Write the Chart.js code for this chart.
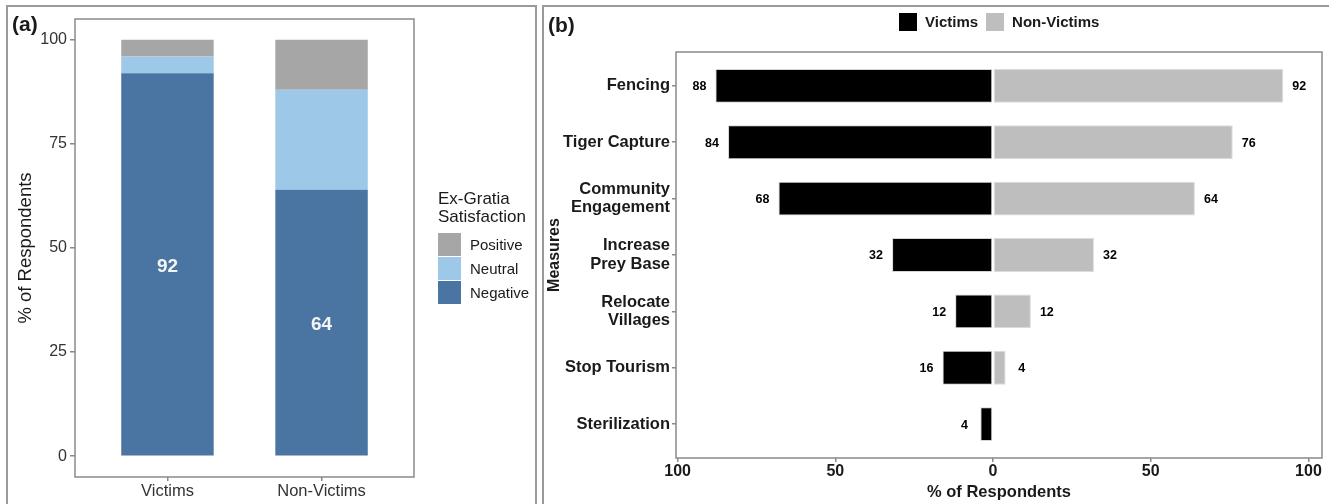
<!DOCTYPE html>
<html>
<head>
<meta charset="utf-8">
<script src="https://cdn.jsdelivr.net/npm/chart.js@4.4.1/dist/chart.umd.min.js"></script>
<style>
  html, body { margin: 0; padding: 0; background: #fff; }
  body { width: 1329px; height: 504px; position: relative; overflow: hidden;
         font-family: 'Liberation Sans', Arial, sans-serif; color: #1a1a1a; }
  .frame { position: absolute; border: 2px solid #9a9a9a; border-bottom: none; box-sizing: border-box; }
  #frameA { left: 6px; top: 5px; width: 531px; height: 499px; }
  #frameB { left: 542px; top: 5px; width: 800px; height: 499px; }
  .tag { position: absolute; font-weight: bold; font-size: 21px; line-height: 1; }
  canvas { position: absolute; top: 0; }
  #legendA { position: absolute; left: 438px; top: 190px; font-size: 15px; }
  #legendA .title { font-size: 17px; line-height: 18px; margin-bottom: 6px; }
  #legendA .row { display: flex; align-items: center; height: 24.3px; }
  #legendA .sw { width: 23px; height: 23px; margin-right: 9px; }
  #legendB { position: absolute; left: 899px; top: 13px; display: flex; align-items: center;
             font-size: 15px; font-weight: bold; line-height: 18px; }
  #legendB .sw { width: 18px; height: 18px; margin-right: 8px; }
  #legendB .lab { margin-right: 8px; }
</style>
</head>
<body>
<div class="frame" id="frameA"></div>
<div class="frame" id="frameB"></div>
<canvas id="chartA" width="538" height="504" style="left:0;width:538px;height:504px"></canvas>
<canvas id="chartB" width="786" height="504" style="left:543px;width:786px;height:504px"></canvas>
<div class="tag" style="left:12px;top:13px">(a)</div>
<div class="tag" style="left:548px;top:14px">(b)</div>
<div id="legendA"></div>
<div id="legendB"></div>
<script>
// panel (a): ex-gratia satisfaction
const groups = ['Victims', 'Non-Victims'];
const negative = [92, 64];
const neutral = [4, 24];
const positive = [4, 12];
const levelNames = ['Negative', 'Neutral', 'Positive'];
const levelColors = ['#4a75a3', '#9dc8e7', '#a6a6a6'];
const yTicksA = [0, 25, 50, 75, 100];

// panel (b): preferred measures
const measures = ['Fencing', 'Tiger Capture', 'Community\nEngagement', 'Increase\nPrey Base',
                  'Relocate\nVillages', 'Stop Tourism', 'Sterilization'];
const victims = [88, 84, 68, 32, 12, 16, 4];
const nonVictims = [92, 76, 64, 32, 12, 4, 0];
const respondentNames = ['Victims', 'Non-Victims'];
const respondentColors = ['#000000', '#bebebe'];
const xTicksB = [-100, -50, 0, 50, 100];

const FONT = "'Liberation Sans', Arial, sans-serif";
Chart.defaults.font.family = FONT;

// box round the plot area, like ggplot's panel border
const panelBox = {
  id: 'panelBox',
  afterDatasetsDraw(chart) {
    const a = chart.chartArea, ctx = chart.ctx;
    ctx.save();
    ctx.strokeStyle = '#8a8a8a';
    ctx.lineWidth = 1.5;
    ctx.strokeRect(a.left, a.top, a.right - a.left, a.bottom - a.top);
    ctx.restore();
  }
};

const tickGrid = { drawOnChartArea: false, offset: false, tickLength: 4, color: '#8a8a8a', lineWidth: 1.5 };

// ---- chart (a)
const levelValues = [negative, neutral, positive];
const labelsA = {
  id: 'labelsA',
  afterDatasetsDraw(chart) {
    const ctx = chart.ctx;
    ctx.save();
    ctx.font = 'bold 19px ' + FONT;
    ctx.fillStyle = '#f4f4f4';
    ctx.textAlign = 'center';
    ctx.textBaseline = 'middle';
    chart.getDatasetMeta(0).data.forEach((bar, i) => {
      ctx.fillText(negative[i], bar.x, (bar.y + bar.base) / 2 + 2);
    });
    ctx.restore();
  }
};

new Chart(document.getElementById('chartA'), {
  type: 'bar',
  data: {
    datasets: levelNames.map((name, k) => ({
      label: name,
      data: groups.map((g, i) => ({ x: i + 1, y: levelValues[k][i] })),
      backgroundColor: levelColors[k],
      borderWidth: 0
    }))
  },
  options: {
    responsive: false,
    animation: false,
    layout: { padding: { top: 19, right: 124, left: 0, bottom: 0 } },
    datasets: { bar: { categoryPercentage: 1, barPercentage: 0.6 } },
    plugins: { legend: { display: false }, tooltip: { enabled: false } },
    scales: {
      x: {
        type: 'linear', stacked: true, min: 0.4, max: 2.6, offset: false,
        afterBuildTicks: s => { s.ticks = groups.map((g, i) => ({ value: i + 1 })); },
        afterFit: s => { s.height = 27; },
        ticks: { callback: v => groups[v - 1], font: { size: 16.5 }, color: '#333', padding: 1, maxRotation: 0, autoSkip: false },
        grid: tickGrid,
        border: { display: false }
      },
      y: {
        type: 'linear', stacked: true, min: -5, max: 105,
        afterBuildTicks: s => { s.ticks = yTicksA.map(v => ({ value: v })); },
        afterFit: s => { s.width = 75; },
        ticks: { font: { size: 16 }, color: '#333', padding: 3 },
        grid: Object.assign({}, tickGrid, { tickLength: 5 }),
        border: { display: false },
        title: { display: true, text: '% of Respondents', font: { size: 18.5 }, color: '#1a1a1a', padding: { top: 15, bottom: 0 } }
      }
    }
  },
  plugins: [panelBox, labelsA]
});

// ---- chart (b)
const labelsB = {
  id: 'labelsB',
  afterDatasetsDraw(chart) {
    const ctx = chart.ctx;
    ctx.save();
    ctx.font = 'bold 12.5px ' + FONT;
    ctx.fillStyle = '#000';
    ctx.textAlign = 'center';
    ctx.textBaseline = 'middle';
    chart.getDatasetMeta(0).data.forEach((bar, i) => {
      if (victims[i]) ctx.fillText(victims[i], bar.x - 16, bar.y + 1);
    });
    chart.getDatasetMeta(1).data.forEach((bar, i) => {
      if (nonVictims[i]) ctx.fillText(nonVictims[i], bar.x + 16, bar.y + 1);
    });
    ctx.restore();
  }
};

new Chart(document.getElementById('chartB'), {
  type: 'bar',
  data: {
    datasets: [
      { label: respondentNames[0], data: measures.map((m, i) => ({ y: i + 1, x: -victims[i] })),
        backgroundColor: respondentColors[0], borderColor: '#d4d4d4', borderWidth: 1, borderSkipped: false },
      { label: respondentNames[1], data: measures.map((m, i) => ({ y: i + 1, x: nonVictims[i] })),
        backgroundColor: respondentColors[1], borderColor: '#dcdcdc', borderWidth: 1, borderSkipped: false }
    ]
  },
  options: {
    indexAxis: 'y',
    responsive: false,
    animation: false,
    layout: { padding: { top: 52, right: 7, left: 0, bottom: 0 } },
    datasets: { bar: { categoryPercentage: 1, barPercentage: 0.6 } },
    plugins: { legend: { display: false }, tooltip: { enabled: false } },
    scales: {
      x: {
        type: 'linear', stacked: true, min: -100.5, max: 104.3, offset: false,
        afterBuildTicks: s => { s.ticks = xTicksB.map(v => ({ value: v })); },
        afterFit: s => { s.height = 46; },
        ticks: { callback: v => Math.abs(v), font: { size: 16, weight: 'bold' }, color: '#1a1a1a', padding: 0, maxRotation: 0 },
        grid: tickGrid,
        border: { display: false },
        title: { display: true, text: '% of Respondents', font: { size: 16.5, weight: 'bold' }, color: '#1a1a1a', padding: { top: 0, bottom: 2 } }
      },
      y: {
        type: 'linear', stacked: true, reverse: true, min: 0.4, max: 7.6, offset: false,
        afterBuildTicks: s => { s.ticks = measures.map((m, i) => ({ value: i + 1 })); },
        afterFit: s => { s.width = 133; },
        ticks: { callback: v => measures[v - 1].split('\n'), font: { size: 16.5, weight: 'bold', lineHeight: 1.1 }, color: '#1a1a1a', padding: 2, autoSkip: false },
        grid: tickGrid,
        border: { display: false },
        title: { display: true, text: 'Measures', font: { size: 16, weight: 'bold' }, color: '#1a1a1a', padding: { top: 2, bottom: 0 } }
      }
    }
  },
  plugins: [panelBox, labelsB]
});

// legends drawn as html
const legendA = document.getElementById('legendA');
legendA.innerHTML = '<div class="title">Ex-Gratia<br>Satisfaction</div>' +
  levelNames.slice().reverse().map((n, k) => {
    const c = levelColors[levelNames.length - 1 - k];
    return `<div class="row"><div class="sw" style="background:${c}"></div><span>${n}</span></div>`;
  }).join('');

const legendB = document.getElementById('legendB');
legendB.innerHTML = respondentNames.map((n, k) =>
  `<div class="sw" style="background:${respondentColors[k]}"></div><span class="lab">${n}</span>`).join('');
</script>
</body>
</html>
